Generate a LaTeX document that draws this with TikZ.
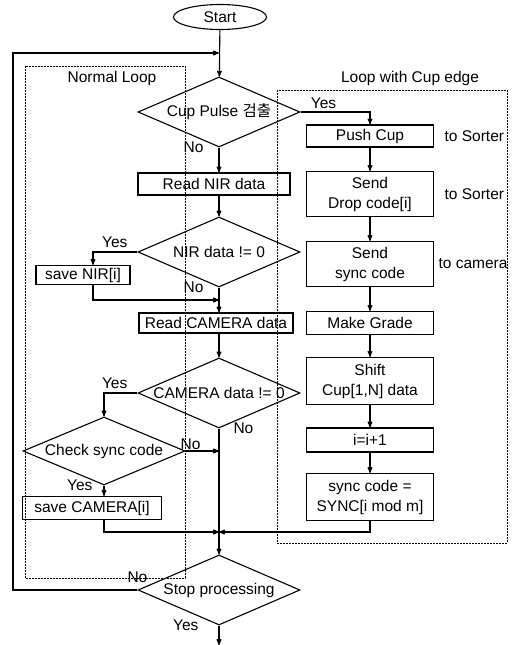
\documentclass[tikz,border=0pt]{standalone}
\usepackage{fontspec}
\setmainfont{Liberation Sans}
\newfontfamily\krfont{Noto Sans CJK KR}
\usetikzlibrary{arrows,calc,positioning,shapes.geometric}
\newcommand{\dtxt}[1]{\makebox[0pt]{#1}}

\begin{document}
\begin{tikzpicture}[x=1pt,y=-1pt,>=stealth',line width=1.1pt,
		font=\fontsize{15.5}{20}\selectfont,
		box/.style={draw,rectangle,inner sep=2pt,align=center,minimum height=22pt},
		rbox/.style={box,minimum width=127pt},
		test/.style={draw,diamond,inner sep=0pt,minimum width=162pt,minimum height=70pt},
		term/.style={draw,ellipse,inner sep=0pt,minimum width=93pt,minimum height=25pt},
		loopbox/.style={draw,line width=0.7pt,dash pattern=on 2pt off 1pt},
		lbl/.style={inner sep=1pt}]
			\useasboundingbox (0,0) rectangle (518,645);
			% loop frames
			\draw[loopbox] (25,66) rectangle (185,578);
			\node (normal) at (112,78) {Normal Loop};
			\draw[loopbox] (277,90) rectangle (507,543);
			\node (cupedge) at (410,78) {Loop with Cup edge};
			% main column
			\node[term] (start) at (220,17) {Start};
			\node[test] (cup) at (219,112) {\dtxt{Cup Pulse {\krfont 검출}}};
			\node[box,minimum width=152pt] (nir) at (214,184) {Read NIR data};
			\node[test] (nirok) at (219,252) {\dtxt{NIR data != 0}};
			\node[box,minimum width=94pt,minimum height=19pt] (savenir) at (83,275) {save NIR[i]};
			\node[box,minimum width=154pt,minimum height=20pt] (cam) at (216,323) {Read CAMERA data};
			\node[test] (camok) at (219,393) {\dtxt{CAMERA data != 0}};
			\node[test,minimum height=68pt] (sync) at (104,451) {\dtxt{Check sync code}};
			\node[box,minimum width=139pt,minimum height=23pt] (savecam) at (92,508) {save CAMERA[i]};
			\node[test] (stop) at (219,590) {\dtxt{Stop processing}};
			% cup edge column
			\node[rbox] (push) at (370,136) {Push Cup};
			\node[rbox,minimum height=45pt] (drop) at (370,194) {Send\\Drop code[i]};
			\node[rbox,minimum height=45pt] (send) at (370,264) {Send\\sync code};
			\node[rbox,minimum height=23pt] (grade) at (370,323) {Make Grade};
			\node[rbox,minimum height=47pt] (shift) at (370,381) {Shift\\Cup[1,N] data};
			\node[rbox,minimum height=24pt] (inc) at (370,440) {i=i+1};
			\node[rbox,minimum height=47pt] (syncset) at (370,497) {sync code =\\SYNC[i mod m]};
			\node[lbl,anchor=west] (tos1) at ([xshift=9pt]push.east) {to Sorter};
			\node[lbl,anchor=west] (tos2) at ([xshift=9pt]drop.east) {to Sorter};
			\node[lbl,anchor=west] (tocam) at ([xshift=3pt]send.east) {to camera};
			% junctions
			\coordinate (top) at (219,53);
			\coordinate (back) at (13,53);
			\coordinate (m1) at (219,300);
			\coordinate (m3) at (219,532);
			\coordinate (end) at (219,645);
			% connectors
			\draw[->] (start) -- (cup);
			\draw[->] (cup) -- node[lbl,pos=0,anchor=east,xshift=-14pt] {No} (cup |- nir.north);
			\draw[->] (nir.south -| cup) -- (nirok);
			\draw[->] (nirok.west) -| node[lbl,pos=0.255,above=3pt] {Yes} ([xshift=10pt]savenir.north);
			\draw[->] ([xshift=10pt]savenir.south) |- (m1);
			\draw[->] (nirok) -- node[lbl,pos=0,anchor=east,xshift=-14pt] {No} (nirok |- cam.north);
			\draw[->] (cam.south -| camok) -- (camok);
			\draw[->] (camok.west) -| node[lbl,pos=0.34,above=3pt] {Yes} (sync);
			\draw[->] (sync.east) -- node[lbl,pos=0.15,above] {No} (sync.east -| camok);
			\draw[->] (camok) -- node[lbl,pos=0,anchor=west,xshift=13pt] {No} (stop);
			\draw[->] (sync.south) -- node[lbl,pos=0,anchor=east,xshift=-10pt] {Yes} (sync.south |- savecam.north);
			\draw[->] (sync.south |- savecam.south) |- (m3);
			\draw[->] (syncset) |- (m3);
			\draw[->] (stop) -- node[lbl,pos=0,anchor=east,xshift=-19pt] {Yes} (end);
			\draw[->] (stop.west) -| (back) -- (top);
			\node[lbl,anchor=south] at ([yshift=6pt]stop.west) {No};
			\draw[->] (cup.east) -| node[lbl,pos=0.165,above=2pt] {Yes} (push);
			\foreach \a/\b in {push/drop,drop/send,send/grade,grade/shift,shift/inc,inc/syncset}
				\draw[->] (\a) -- (\b);
\end{tikzpicture}
\end{document}
